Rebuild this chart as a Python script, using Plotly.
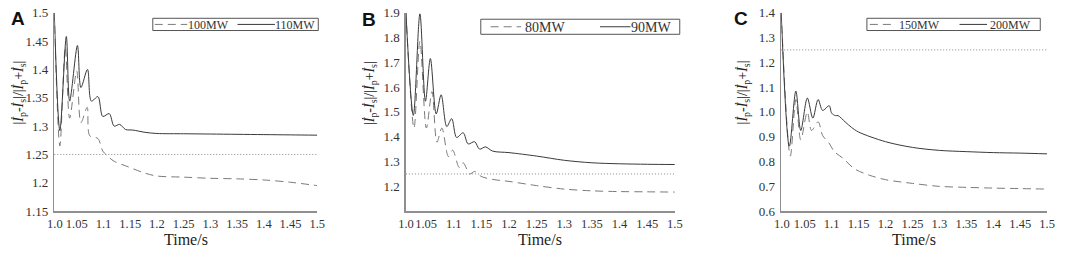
import plotly.graph_objects as go

W, H = 1065, 254

# ---------------- data ----------------
# Panel A
tA_100 = [1.008, 1.0184, 1.0286, 1.0367, 1.05, 1.0578, 1.0695, 1.0743, 1.0896, 1.0987, 1.1079, 1.12, 1.1413, 1.1778, 1.2, 1.25, 1.3, 1.35, 1.4, 1.45, 1.5]
yA_100 = [1.50, 1.265, 1.439, 1.314, 1.397, 1.306, 1.333, 1.283, 1.278, 1.256, 1.247, 1.238, 1.230, 1.217, 1.212, 1.210, 1.208, 1.207, 1.205, 1.201, 1.195]
tA_110 = [1.008, 1.0184, 1.0305, 1.0367, 1.0513, 1.0578, 1.0701, 1.0774, 1.0896, 1.0987, 1.1108, 1.1199, 1.1303, 1.1413, 1.155, 1.1778, 1.2, 1.25, 1.3, 1.35, 1.4, 1.45, 1.5]
yA_110 = [1.50, 1.292, 1.458, 1.344, 1.442, 1.368, 1.400, 1.344, 1.352, 1.317, 1.322, 1.300, 1.303, 1.294, 1.293, 1.289, 1.287, 1.2865, 1.286, 1.2855, 1.285, 1.2845, 1.284]

# Panel B
tB_80 = [1.0135, 1.0281, 1.0388, 1.0505, 1.0607, 1.0696, 1.0785, 1.0904, 1.0981, 1.11, 1.1171, 1.1289, 1.1378, 1.1497, 1.1705, 1.2, 1.25, 1.3, 1.35, 1.4, 1.45, 1.5]
yB_80 = [1.90, 1.435, 1.785, 1.435, 1.582, 1.378, 1.435, 1.320, 1.346, 1.276, 1.295, 1.250, 1.260, 1.240, 1.228, 1.220, 1.203, 1.189, 1.182, 1.179, 1.178, 1.177]
tB_90 = [1.0135, 1.0269, 1.0388, 1.0488, 1.0577, 1.0683, 1.0772, 1.0874, 1.0963, 1.1052, 1.1171, 1.126, 1.1378, 1.1467, 1.1573, 1.1705, 1.2, 1.25, 1.3, 1.35, 1.4, 1.45, 1.5]
yB_90 = [1.90, 1.486, 1.895, 1.543, 1.715, 1.492, 1.569, 1.441, 1.473, 1.397, 1.416, 1.371, 1.380, 1.350, 1.359, 1.342, 1.336, 1.322, 1.305, 1.295, 1.291, 1.289, 1.288]

# Panel C
tC_150 = [1.0064, 1.0233, 1.0336, 1.0427, 1.0549, 1.0627, 1.0749, 1.0833, 1.095, 1.105, 1.12, 1.143, 1.17, 1.2, 1.25, 1.3, 1.35, 1.4, 1.45, 1.5]
yC_150 = [1.40, 0.822, 1.050, 0.887, 1.000, 0.925, 0.960, 0.905, 0.875, 0.840, 0.815, 0.770, 0.745, 0.727, 0.712, 0.700, 0.696, 0.693, 0.691, 0.689]
tC_200 = [1.0064, 1.0215, 1.0336, 1.0427, 1.0549, 1.0651, 1.0749, 1.0833, 1.0955, 1.1, 1.107, 1.112, 1.125, 1.1367, 1.15, 1.2, 1.25, 1.3, 1.35, 1.4, 1.45, 1.5]
yC_200 = [1.40, 0.862, 1.084, 0.925, 1.056, 0.975, 1.050, 1.006, 1.025, 0.995, 0.985, 0.985, 0.960, 0.938, 0.919, 0.880, 0.857, 0.845, 0.840, 0.836, 0.834, 0.831]

threshold = 1.25

series_names = [("100MW", "110MW"), ("80MW", "90MW"), ("150MW", "200MW")]

x_tick_vals = [1.05, 1.1, 1.15, 1.2, 1.25, 1.3, 1.35, 1.4, 1.45, 1.5]
x_tick_text = ["1.05", "1.1", "1.15", "1.2", "1.25", "1.3", "1.35", "1.4", "1.45", "1.5"]

yA_ticks = [1.15, 1.2, 1.25, 1.3, 1.35, 1.4, 1.45, 1.5]
yA_text = ["1.15", "1.2", "1.25", "1.3", "1.35", "1.4", "1.45", "1.5"]
yB_ticks = [1.2, 1.3, 1.4, 1.5, 1.6, 1.7, 1.8, 1.9]
yB_text = ["1.2", "1.3", "1.4", "1.5", "1.6", "1.7", "1.8", "1.9"]
yC_ticks = [0.6, 0.7, 0.8, 0.9, 1.0, 1.1, 1.2, 1.3, 1.4]
yC_text = ["0.6", "0.7", "0.8", "0.9", "1.0", "1.1", "1.2", "1.3", "1.4"]

# ---------------- styling ----------------
SERIF = "Liberation Serif, Times New Roman, serif"
SOLID_C = "#3a3a3a"
DASH_C = "#7a7a7a"
DOT_C = "#8a8a8a"
DASH = "8px,5px"

fig = go.Figure()

def add_pair(t1, y1, n1, t2, y2, n2, xa, ya):
    fig.add_trace(go.Scatter(x=t1, y=y1, name=n1, mode="lines", xaxis=xa, yaxis=ya, showlegend=False,
                             line=dict(color=DASH_C, width=1, dash=DASH, shape="spline", smoothing=0.9)))
    fig.add_trace(go.Scatter(x=t2, y=y2, name=n2, mode="lines", xaxis=xa, yaxis=ya, showlegend=False,
                             line=dict(color=SOLID_C, width=1, shape="spline", smoothing=0.9)))

add_pair(tA_100, yA_100, series_names[0][0], tA_110, yA_110, series_names[0][1], "x", "y")
add_pair(tB_80, yB_80, series_names[1][0], tB_90, yB_90, series_names[1][1], "x2", "y2")
add_pair(tC_150, yC_150, series_names[2][0], tC_200, yC_200, series_names[2][1], "x3", "y3")

def px_x(p):
    return p / W

def px_y(p):
    return 1 - p / H

ydom = [px_y(217), px_y(6)]
axis_common = dict(showline=True, linecolor="#8f8f8f", linewidth=1.5, showgrid=False, zeroline=False,
                   ticks="", ticklabeloverflow="allow")

panels = [
    ("xaxis", "yaxis", (47, 314), [1.008, 1.5], 1.0092, [1.15, 1.5], yA_ticks, yA_text, ""),
    ("xaxis2", "yaxis2", (404, 677), [1.0135, 1.5], 1.0137, [1.1, 1.9], yB_ticks, yB_text, "2"),
    ("xaxis3", "yaxis3", (785, 1055), [1.0064, 1.5], 1.0076, [0.6, 1.4], yC_ticks, yC_text, "3"),
]

layout = dict(
    width=W, height=H, margin=dict(l=0, r=0, t=0, b=0),
    paper_bgcolor="white", plot_bgcolor="white",
    font=dict(family=SERIF, color="#333333"), showlegend=False,
)
shapes = []
annotations = []
for xk, yk, (x0, x1), xr, ft, yr, yt, ytt, sfx in panels:
    layout[xk] = dict(axis_common, domain=[px_x(x0), px_x(x1)], range=xr, anchor="y" + sfx,
                      tickvals=[ft] + x_tick_vals, ticktext=["1.0"] + x_tick_text, tickangle=0,
                      tickfont=dict(family=SERIF, size=12.5, color="#333333"))
    layout[yk] = dict(axis_common, domain=ydom, range=yr, anchor="x" + sfx,
                      tickvals=yt, ticktext=ytt, ticklabelstandoff=2,
                      tickfont=dict(family=SERIF, size=13, color="#333333"))
    shapes.append(dict(type="line", xref="x" + sfx + " domain", yref="y" + sfx,
                       x0=0, x1=1, y0=threshold, y1=threshold,
                       line=dict(color=DOT_C, width=1, dash="1px,2px")))
    annotations.append(dict(text="Time/s", x=px_x((x0 + x1) / 2), y=px_y(247), xref="paper", yref="paper",
                            showarrow=False, xanchor="center", yanchor="middle",
                            font=dict(family=SERIF, size=16, color="#222222")))

ytitle = ("|<i>İ</i><sub>p</sub>-<i>İ</i><sub>s</sub>|/|<i>İ</i><sub>p</sub>+<i>İ</i><sub>s</sub>|")
for xc in (12, 368, 747):
    annotations.append(dict(text=ytitle, textangle=-90, x=px_x(xc), y=px_y(91), xref="paper", yref="paper",
                            showarrow=False, xanchor="center", yanchor="middle",
                            font=dict(family=SERIF, size=14, color="#222222")))

for lab, xc, yc in (("A", 10, 12), ("B", 367, 13), ("C", 744, 12)):
    annotations.append(dict(text="<b>" + lab + "</b>", x=px_x(xc), y=px_y(yc), xref="paper", yref="paper",
                            showarrow=False, xanchor="center", yanchor="middle",
                            font=dict(family="Liberation Sans, Arial, sans-serif", size=19, color="#111111")))

# legends (box, line samples, labels) in pixel geometry
legends = [
    ((147, 315, 12, 25), (149, 182), 185, (233, 271), 273, 12, series_names[0]),
    ((480, 682, 13, 29), (490, 521), 527, (601, 632), 635, 14, series_names[1]),
    ((872, 1048, 12, 25), (875, 901), 907, (966, 994), 999, 12, series_names[2]),
]
for (bx0, bx1, by0, by1), (d0, d1), tx1, (s0, s1), tx2, fs, (n1, n2) in legends:
    ym = (by0 + by1) / 2
    shapes.append(dict(type="rect", xref="paper", yref="paper", x0=px_x(bx0), x1=px_x(bx1),
                       y0=px_y(by1), y1=px_y(by0), line=dict(color="#555555", width=1), fillcolor="white",
                       layer="above"))
    shapes.append(dict(type="line", xref="paper", yref="paper", x0=px_x(d0), x1=px_x(d1),
                       y0=px_y(ym), y1=px_y(ym), line=dict(color=DASH_C, width=1, dash=DASH)))
    shapes.append(dict(type="line", xref="paper", yref="paper", x0=px_x(s0), x1=px_x(s1),
                       y0=px_y(ym), y1=px_y(ym), line=dict(color=SOLID_C, width=1)))
    for tx, nm in ((tx1, n1), (tx2, n2)):
        annotations.append(dict(text=nm, x=px_x(tx), y=px_y(ym + 0.5), xref="paper", yref="paper",
                                showarrow=False, xanchor="left", yanchor="middle", xshift=-3,
                                borderpad=0, font=dict(family=SERIF, size=fs, color="#333333")))

layout["shapes"] = shapes
layout["annotations"] = annotations

fig.update_layout(**layout)
fig.write_html("out.html", config={"displayModeBar": False, "staticPlot": True},
               post_script="document.body.style.margin='0';document.body.style.padding='0';"
                           "document.body.style.overflow='hidden';")
